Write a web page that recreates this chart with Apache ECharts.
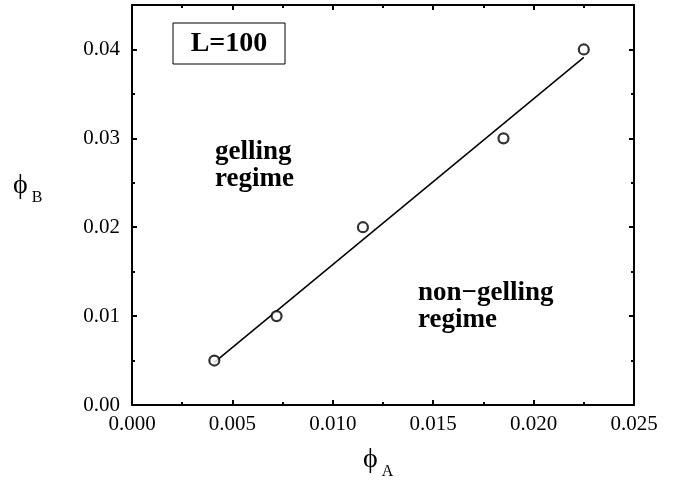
<!DOCTYPE html>
<html>
<head>
<meta charset="utf-8">
<script src="https://cdn.jsdelivr.net/npm/echarts@6/dist/echarts.min.js"></script>
<style>
  html, body { margin: 0; padding: 0; background: #fff; }
  #chart { width: 684px; height: 483px; }
</style>
</head>
<body>
<div id="chart"></div>
<script>
// data
const phiA = [0.0041, 0.0072, 0.0115, 0.0185, 0.0225];
const phiB = [0.005, 0.010, 0.020, 0.030, 0.040];
// fitted line end points
const fitA = [0.0041, 0.0225];
const fitB = [0.0048, 0.0391];

const FONT = "Liberation Serif";

const chart = echarts.init(document.getElementById("chart"));

// shared axis look: thick black frame, ticks pointing inwards
function axisStyle(showLabels, fmt, margin) {
  return {
    axisLine: { show: true, onZero: false, lineStyle: { color: "#000", width: 2 } },
    axisTick: { show: true, inside: true, length: 5, lineStyle: { color: "#000", width: 2 } },
    minorTick: { show: true, splitNumber: 2, length: 3, lineStyle: { color: "#000", width: 2 } },
    splitLine: { show: false },
    axisLabel: {
      show: showLabels,
      color: "#000",
      fontFamily: FONT,
      fontSize: 21,
      margin: margin,
      formatter: fmt,
    },
  };
}

const xFmt = (v) => v.toFixed(3);
const yFmt = (v) => (v > 0.0401 ? "" : v.toFixed(2));

const option = {
  animation: false,
  grid: { left: 132, right: 50, top: 5, bottom: 78 },
  xAxis: [
    Object.assign({ type: "value", position: "bottom", min: 0, max: 0.025, interval: 0.005 },
      axisStyle(true, xFmt, 9)),
    Object.assign({ type: "value", position: "top", min: 0, max: 0.025, interval: 0.005 },
      axisStyle(false, xFmt, 8)),
  ],
  yAxis: [
    Object.assign({ type: "value", position: "left", min: 0, max: 0.045, interval: 0.01 },
      axisStyle(true, yFmt, 12)),
    Object.assign({ type: "value", position: "right", min: 0, max: 0.045, interval: 0.01 },
      axisStyle(false, yFmt, 8)),
  ],
  series: [
    {
      name: "fit",
      type: "line",
      data: fitA.map((x, i) => [x, fitB[i]]),
      showSymbol: false,
      symbol: "none",
      lineStyle: { color: "#000", width: 1.5 },
      z: 2,
    },
    {
      name: "points",
      type: "scatter",
      data: phiA.map((x, i) => [x, phiB[i]]),
      symbol: "circle",
      symbolSize: 10,
      itemStyle: { color: "#fff", borderColor: "#000", borderWidth: 2.2 },
      z: 3,
    },
  ],
  graphic: [
    {
      type: "rect",
      shape: { x: 173, y: 23, width: 112, height: 41 },
      style: { fill: "#fff", stroke: "#000", lineWidth: 1 },
    },
    {
      type: "text",
      x: 229, y: 44,
      style: { text: "L=100", font: "bold 28px " + FONT, fill: "#000", align: "center", verticalAlign: "middle" },
    },
    {
      type: "text",
      x: 215, y: 166,
      style: { text: "gelling\nregime", font: "bold 27px " + FONT, lineHeight: 27, fill: "#000", align: "left", verticalAlign: "middle" },
    },
    {
      type: "text",
      x: 418, y: 307,
      style: { text: "non\u2212gelling\nregime", font: "bold 27px " + FONT, lineHeight: 27, fill: "#000", align: "left", verticalAlign: "middle" },
    },
    {
      type: "text",
      x: 363, y: 440,
      style: {
        text: "{p|\u03d5}{s| A}",
        rich: {
          p: { fontFamily: FONT, fontSize: 28, fill: "#000" },
          s: { fontFamily: FONT, fontSize: 16, fill: "#000", padding: [24, 0, 0, 0] },
        },
      },
    },
    {
      type: "text",
      x: 13, y: 166,
      style: {
        text: "{p|\u03d5}{s| B}",
        rich: {
          p: { fontFamily: FONT, fontSize: 28, fill: "#000" },
          s: { fontFamily: FONT, fontSize: 16, fill: "#000", padding: [24, 0, 0, 0] },
        },
      },
    },
  ],
};

chart.setOption(option);
</script>
</body>
</html>
